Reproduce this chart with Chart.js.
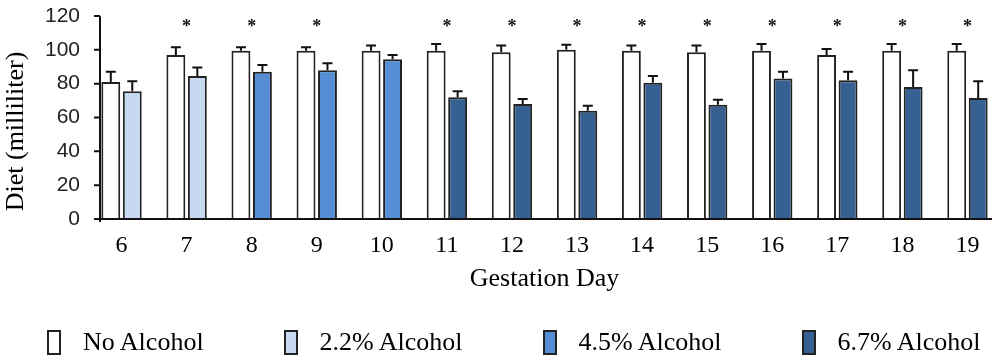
<!DOCTYPE html>
<html>
<head>
<meta charset="utf-8">
<script src="https://cdn.jsdelivr.net/npm/chart.js@4.4.1/dist/chart.umd.min.js"></script>
<style>
	body { margin: 0; background: #fff; }
	#wrap { position: relative; width: 1000px; height: 361px; }
	#legend {
		position: absolute; left: 0; top: 327px; width: 1000px;
		display: flex; align-items: center; padding-left: 47px; gap: 80px;
		font-family: "Liberation Serif", "Times New Roman", serif; font-size: 26px; color: #000;
	}
	#legend .item { display: flex; align-items: center; }
	#legend .box { width: 10px; height: 21px; border: 2px solid #222; margin-right: 22px; }
</style>
</head>
<body>
<div id="wrap">
	<canvas id="diet-chart" width="1000" height="361"></canvas>
	<div id="legend"></div>
</div>
<script>
const days = ["6", "7", "8", "9", "10", "11", "12", "13", "14", "15", "16", "17", "18", "19"];

const noAlcohol = [81, 97, 99.5, 99.5, 99.5, 99.5, 98.5, 100, 99.5, 98.5, 99.5, 97, 99.5, 99.5];
const noAlcoholErr = [6, 4.5, 2, 2, 3, 4, 4, 3, 3, 4, 4, 3.5, 4, 4];

const alcohol22 = [75.5, 84.5, null, null, null, null, null, null, null, null, null, null, null, null];
const alcohol22Err = [6, 5, null, null, null, null, null, null, null, null, null, null, null, null];

const alcohol45 = [null, null, 87, 88, 94.5, null, null, null, null, null, null, null, null, null];
const alcohol45Err = [null, null, 4, 4, 2.5, null, null, null, null, null, null, null, null, null];

const alcohol67 = [null, null, null, null, null, 72, 68, 64, 80.5, 67.5, 83, 82, 78, 71.5];
const alcohol67Err = [null, null, null, null, null, 3.5, 3, 3, 4, 3, 4, 5, 10, 10];

// asterisk = significant difference for that day
const significant = [false, true, true, true, false, true, true, true, true, true, true, true, true, true];
const starLevel = 113.5;

const yTicks = [0, 20, 40, 60, 80, 100, 120];
const yTitle = "Diet (milliliter)";

const serif = "'Liberation Serif', 'Times New Roman', serif";
const sans = "'Liberation Sans', Arial, sans-serif";

function makeSet(label, data, errors, color) {
	return {
		label: label,
		data: data,
		errors: errors,
		backgroundColor: color,
		borderColor: "#222",
		borderWidth: 2,
		borderSkipped: "bottom",
		skipNull: true,
		categoryPercentage: 0.66,
		barPercentage: 0.88,
	};
}

// error bars (upper only) drawn on top of each bar
const errorBars = {
	id: "errorBars",
	afterDatasetsDraw(chart) {
		const ctx = chart.ctx;
		const y = chart.scales.y;
		ctx.save();
		ctx.strokeStyle = "#111";
		ctx.lineWidth = 2;
		chart.data.datasets.forEach((ds, i) => {
			const meta = chart.getDatasetMeta(i);
			meta.data.forEach((bar, j) => {
				if (ds.data[j] == null || ds.errors[j] == null) return;
				const top = y.getPixelForValue(ds.data[j] + ds.errors[j]);
				ctx.beginPath();
				ctx.moveTo(bar.x, bar.y);
				ctx.lineTo(bar.x, top);
				ctx.moveTo(bar.x - 5, top);
				ctx.lineTo(bar.x + 5, top);
				ctx.stroke();
			});
		});
		ctx.restore();
	},
};

// axis lines, y tick marks, y title and significance stars
const axesAndStars = {
	id: "axesAndStars",
	afterDatasetsDraw(chart) {
		const ctx = chart.ctx;
		const area = chart.chartArea;
		const x = chart.scales.x;
		const y = chart.scales.y;
		const axisX = area.left + 11;
		const zero = y.getPixelForValue(0);
		ctx.save();
		ctx.strokeStyle = "#111";
		ctx.lineWidth = 2;
		ctx.beginPath();
		ctx.moveTo(axisX, y.getPixelForValue(120));
		ctx.lineTo(axisX, zero + 3);
		ctx.moveTo(axisX, zero);
		ctx.lineTo(area.right - 8, zero);
		yTicks.forEach((t) => {
			const py = y.getPixelForValue(t);
			ctx.moveTo(axisX - 6, py);
			ctx.lineTo(axisX, py);
		});
		ctx.stroke();

		ctx.fillStyle = "#111";
		ctx.font = "bold 18px " + serif;
		ctx.textAlign = "center";
		ctx.textBaseline = "middle";
		significant.forEach((s, i) => {
			if (!s) return;
			ctx.fillText("*", x.getPixelForValue(i), y.getPixelForValue(starLevel));
		});

		// y title sits a bit below the middle of the axis
		ctx.fillStyle = "#000";
		ctx.font = "26px " + serif;
		ctx.translate(16, (area.top + area.bottom) / 2 + 14);
		ctx.rotate(-Math.PI / 2);
		ctx.fillText(yTitle, 0, 0);
		ctx.restore();
	},
};

const htmlLegend = {
	id: "htmlLegend",
	afterUpdate(chart) {
		const box = document.getElementById("legend");
		box.innerHTML = "";
		chart.data.datasets.forEach((ds) => {
			const item = document.createElement("div");
			item.className = "item";
			const sw = document.createElement("span");
			sw.className = "box";
			sw.style.background = ds.backgroundColor;
			const txt = document.createElement("span");
			txt.textContent = ds.label;
			item.appendChild(sw);
			item.appendChild(txt);
			box.appendChild(item);
		});
	},
};

const myChart = new Chart(document.getElementById("diet-chart"), {
	type: "bar",
	data: {
		labels: days,
		datasets: [
			makeSet("No Alcohol", noAlcohol, noAlcoholErr, "#ffffff"),
			makeSet("2.2% Alcohol", alcohol22, alcohol22Err, "#c6d9f1"),
			makeSet("4.5% Alcohol", alcohol45, alcohol45Err, "#558ed5"),
			makeSet("6.7% Alcohol", alcohol67, alcohol67Err, "#376092"),
		],
	},
	options: {
		responsive: false,
		animation: false,
		layout: { padding: { top: 16, right: 0, bottom: 66, left: 0 } },
		plugins: {
			legend: { display: false },
			tooltip: { enabled: false },
		},
		scales: {
			x: {
				grid: { display: false, drawTicks: false },
				border: { display: false },
				ticks: { color: "#000", padding: 12, font: { family: serif, size: 24 } },
				title: {
					display: true,
					text: "Gestation Day",
					color: "#000",
					padding: { top: -8, bottom: 0 },
					font: { family: serif, size: 26 },
				},
			},
			y: {
				min: 0,
				max: 120,
				grid: { display: false, drawTicks: false },
				border: { display: false },
				ticks: { stepSize: 20, color: "#222", padding: 9, font: { family: sans, size: 21 } },
				afterFit(scale) {
					scale.width = 89;
					scale.paddingTop = 0;
					scale.paddingBottom = 0;
				},
			},
		},
	},
	plugins: [errorBars, axesAndStars, htmlLegend],
});
</script>
</body>
</html>
